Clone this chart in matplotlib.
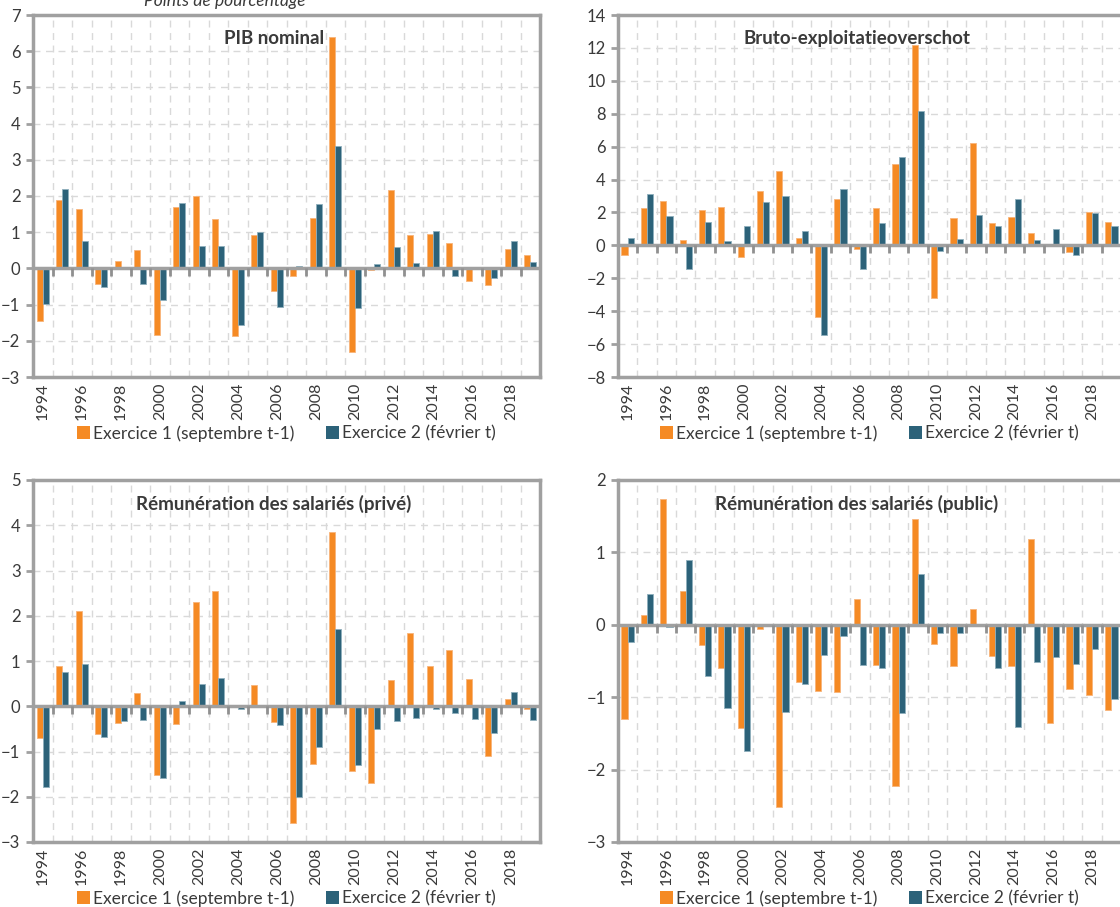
import matplotlib
matplotlib.use("Agg")
import matplotlib.pyplot as plt
import numpy as np
from matplotlib.patches import Patch

plt.rcParams['font.family'] = ['Lato', 'DejaVu Sans']

years = list(range(1994, 2020))
tick_labels = [str(y) if (y - 1994) % 2 == 0 else "" for y in years]

series_names = ["Exercice 1 (septembre t-1)", "Exercice 2 (février t)"]

pib_ex1 = [-1.45, 1.88, 1.63, -0.43, 0.20, 0.50, -1.83, 1.70, 2.00, 1.36, -1.88, 0.93, -0.62,
           -0.22, 1.40, 6.40, -2.30, -0.05, 2.17, 0.93, 0.94, 0.70, -0.36, -0.47, 0.54, 0.38]
pib_ex2 = [-0.97, 2.20, 0.75, -0.50, 0.00, -0.43, -0.88, 1.80, 0.62, 0.63, -1.55, 1.00, -1.08,
           0.07, 1.77, 3.37, -1.10, 0.13, 0.60, 0.16, 1.03, -0.20, 0.00, -0.27, 0.76, 0.18]

beo_ex1 = [-0.60, 2.27, 2.68, 0.30, 2.15, 2.36, -0.70, 3.28, 4.50, 0.45, -4.37, 2.80, -0.25,
           2.25, 4.93, 12.15, -3.20, 1.67, 6.20, 1.38, 1.72, 0.75, 0.00, -0.38, 2.05, 1.42]
beo_ex2 = [0.42, 3.15, 1.77, -1.42, 1.40, 0.27, 1.15, 2.65, 2.97, 0.88, -5.43, 3.45, -1.42,
           1.35, 5.40, 8.15, -0.37, 0.37, 1.85, 1.17, 2.82, 0.35, 1.00, -0.58, 1.98, 1.15]

prive_ex1 = [-0.71, 0.90, 2.10, -0.62, -0.38, 0.30, -1.53, -0.40, 2.30, 2.55, 0.01, 0.48, -0.35,
             -2.58, -1.27, 3.85, -1.43, -1.70, 0.58, 1.62, 0.90, 1.25, 0.60, -1.10, 0.15, -0.07]
prive_ex2 = [-1.78, 0.75, 0.94, -0.67, -0.33, -0.30, -1.58, 0.12, 0.50, 0.63, -0.05, 0.00, -0.42,
             -2.00, -0.90, 1.70, -1.30, -0.50, -0.32, -0.25, -0.05, -0.15, -0.28, -0.60, 0.32, -0.30]

public_ex1 = [-1.30, 0.14, 1.74, 0.46, -0.28, -0.60, -1.43, -0.06, -2.52, -0.79, -0.91, -0.93, 0.35,
              -0.56, -2.22, 1.46, -0.27, -0.57, 0.22, -0.43, -0.57, 1.18, -1.36, -0.88, -0.97, -1.18]
public_ex2 = [-0.24, 0.42, -0.03, 0.90, -0.71, -1.15, -1.74, 0.01, -1.21, -0.82, -0.42, -0.16, -0.55,
              -0.59, -1.22, 0.70, -0.12, -0.11, 0.01, -0.59, -1.41, -0.51, -0.45, -0.54, -0.33, -1.02]

panels = [
    ("PIB nominal", pib_ex1, pib_ex2, (-3, 7), 1),
    ("Bruto-exploitatieoverschot", beo_ex1, beo_ex2, (-8, 14), 2),
    ("Rémunération des salariés (privé)", prive_ex1, prive_ex2, (-3, 5), 1),
    ("Rémunération des salariés (public)", public_ex1, public_ex2, (-3, 2), 1),
]

W, H = 1120, 907
boxes = [
    (33, 15, 540, 377),
    (618, 15, 1121, 377),
    (33, 480, 540, 842),
    (618, 480, 1121, 842),
]

c1 = "#F58A24"
c2 = "#2C6279"
frame_c = "#A0A0A0"
grid_c = "#D9D9D9"
text_c = "#3A3A3A"

fig = plt.figure(figsize=(W / 100, H / 100), dpi=100)

x = np.arange(len(years))
bw = 0.32

for (title, s1, s2, ylim, step), (l, t, r, b) in zip(panels, boxes):
    ax = fig.add_axes([l / W, 1 - b / H, (r - l) / W, (b - t) / H])
    ax.set_xlim(-0.5, len(years) - 0.5)
    ax.set_ylim(*ylim)
    ax.set_yticks(np.arange(ylim[0], ylim[1] + step / 2, step))
    ax.set_xticks(x)
    ax.set_xticklabels(tick_labels, rotation=90)
    ax.set_xticks(x[:-1] + 0.5, minor=True)
    ax.tick_params(axis='x', which='both', length=0, labelsize=11.5, colors=text_c, pad=4)
    ax.tick_params(axis='y', length=5, width=2, color=frame_c, labelsize=12,
                   labelcolor=text_c, pad=4)
    ax.grid(False)
    ax.grid(True, axis='x', which='minor', color=grid_c, linestyle=(0, (5, 4)), linewidth=1)
    ax.grid(True, axis='y', which='major', color=grid_c, linestyle=(0, (5, 4)), linewidth=1)
    ax.set_axisbelow(True)
    for sp in ax.spines.values():
        sp.set_color(frame_c)
        sp.set_linewidth(2.5)

    ax.bar(x - bw / 2, s1, width=bw, color=c1, edgecolor="#F8B47A", linewidth=0.6, zorder=3)
    ax.bar(x + bw / 2, s2, width=bw, color=c2, edgecolor="#8FAFBD", linewidth=0.6, zorder=3)

    ax.axhline(0, color=frame_c, linewidth=2.5, zorder=4)
    rng = ylim[1] - ylim[0]
    ax.vlines(x[:-1] + 0.5, 0, -rng * 0.022, color="#909090", linewidth=2, zorder=4)

    ax.text(0.475, 0.935, title, transform=ax.transAxes, ha='center', va='center',
            fontsize=13.5, fontweight='bold', color=text_c, zorder=5)

    handles = [Patch(facecolor=c1, edgecolor='none'), Patch(facecolor=c2, edgecolor='none')]
    ax.legend(handles, series_names, loc='center', bbox_to_anchor=(0.5, -0.156),
              ncol=2, frameon=False, fontsize=12.5, handlelength=0.75, handleheight=0.75,
              handletextpad=0.2, columnspacing=1.8, labelcolor=text_c)

fig.text(225 / W, 0.9985, "Points de pourcentage", ha='center', va='center',
         fontsize=12.5, style='italic', color=text_c)

fig.savefig("out.png", dpi=100)
